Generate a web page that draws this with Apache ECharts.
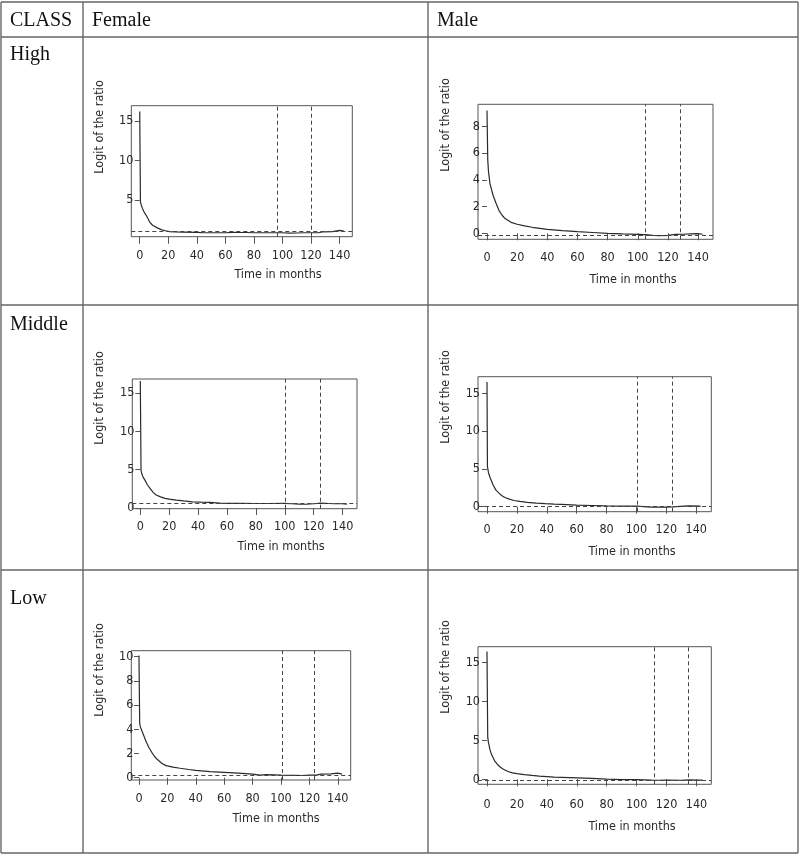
<!DOCTYPE html>
<html>
<head>
<meta charset="utf-8">
<title>Logit of the ratio by class and sex</title>
<script src="https://cdn.jsdelivr.net/npm/echarts@6.0.0/dist/echarts.min.js"></script>
<style>
  html, body { margin: 0; padding: 0; background: #fff; }
  #chart { width: 800px; height: 855px; }
</style>
</head>
<body>
<div id="chart"></div>
<script>
// months on the x axis, logit values
const xTicks = [0, 20, 40, 60, 80, 100, 120, 140];

const femaleHighTime  = [0, 0.5, 1, 2, 3, 5, 7, 9, 12, 15, 18, 21, 25, 30, 40, 45, 50, 60, 65, 70, 75, 80, 90, 100, 105, 110, 115, 120, 125, 128, 135, 140, 143];
const femaleHighLogit = [16.2, 4.8, 4.4, 3.9, 3.5, 2.9, 2.2, 1.8, 1.5, 1.25, 1.1, 1.0, 0.95, 0.93, 0.9, 0.85, 0.85, 0.85, 0.9, 0.88, 0.88, 0.85, 0.85, 0.85, 0.8, 0.82, 0.85, 0.85, 0.85, 0.95, 1.0, 1.15, 1.05];

const maleHighTime  = [0, 0.5, 1, 2, 4, 6, 8, 10, 12, 16, 20, 25, 30, 40, 50, 60, 70, 80, 90, 100, 105, 110, 115, 120, 125, 130, 135, 140, 143];
const maleHighLogit = [9.2, 5.5, 4.6, 3.7, 2.85, 2.25, 1.7, 1.35, 1.1, 0.82, 0.68, 0.55, 0.45, 0.3, 0.2, 0.12, 0.06, 0.0, -0.05, -0.08, -0.1, -0.15, -0.17, -0.15, -0.08, -0.07, -0.05, -0.03, -0.07];

const femaleMiddleTime  = [0, 0.5, 1, 2, 3, 5, 7, 9, 11, 14, 17, 20, 25, 30, 36, 42, 48, 55, 60, 70, 80, 90, 100, 105, 110, 115, 120, 125, 130, 135, 140, 143];
const femaleMiddleLogit = [16.6, 4.9, 4.5, 4.0, 3.7, 3.0, 2.5, 2.0, 1.7, 1.45, 1.25, 1.15, 1.03, 0.92, 0.8, 0.75, 0.72, 0.62, 0.6, 0.6, 0.58, 0.58, 0.6, 0.55, 0.5, 0.48, 0.55, 0.62, 0.58, 0.55, 0.55, 0.5];

const maleMiddleTime  = [0, 0.3, 1, 2, 4, 6, 8, 10, 12, 15, 18, 22, 27, 33, 39, 45, 50, 60, 70, 80, 90, 100, 101, 110, 120, 124, 125, 135, 143];
const maleMiddleLogit = [16.5, 5.3, 4.5, 3.9, 2.9, 2.2, 1.8, 1.45, 1.22, 1.0, 0.82, 0.7, 0.58, 0.48, 0.4, 0.34, 0.3, 0.22, 0.16, 0.1, 0.08, 0.08, -0.05, -0.05, -0.05, -0.03, 0.1, 0.1, 0.08];

const femaleLowTime  = [0, 0.5, 1, 3, 5, 7, 9, 11, 13, 16, 19, 24, 29, 35, 40, 50, 60, 70, 80, 85, 90, 100, 110, 115, 120, 125, 128, 135, 140, 143];
const femaleLowLogit = [10.1, 4.5, 4.2, 3.6, 3.0, 2.5, 2.1, 1.75, 1.5, 1.2, 1.0, 0.88, 0.78, 0.68, 0.6, 0.5, 0.44, 0.38, 0.3, 0.22, 0.25, 0.22, 0.2, 0.18, 0.22, 0.22, 0.3, 0.32, 0.38, 0.3];

const maleLowTime  = [0, 0.5, 1, 2, 3, 5, 7, 9, 11, 14, 17, 20, 25, 30, 35, 40, 45, 50, 60, 70, 80, 90, 100, 110, 115, 120, 130, 135, 140, 144];
const maleLowLogit = [16.4, 5.4, 4.7, 3.8, 3.2, 2.4, 1.9, 1.55, 1.3, 1.0, 0.82, 0.72, 0.6, 0.5, 0.41, 0.35, 0.29, 0.25, 0.18, 0.11, 0.03, -0.03, -0.05, -0.1, -0.12, -0.1, -0.12, -0.08, -0.1, -0.1];

// dashed verticals (months) and dashed horizontal reference level per panel
const cutMonths = [[96.5, 120], [105, 128.2], [100, 124.5], [100.8, 124.2], [100.6, 123.6], [111.9, 134.8]];
const refLevels = [1.08, -0.13, 0.55, 0.03, 0.2, -0.18];
const yTicks = [[5, 10, 15], [0, 2, 4, 6, 8], [0, 5, 10, 15], [0, 5, 10, 15], [0, 2, 4, 6, 8, 10], [0, 5, 10, 15]];

const rowNames = ['High', 'Middle', 'Low'];
const colNames = ['CLASS', 'Female', 'Male'];

window.addEventListener("load", function () {
    let chart = echarts.init(document.getElementById("chart"));

    const sans = "'Liberation Sans Narrow', 'DejaVu Sans Condensed', 'Liberation Sans', sans-serif";
    const serif = "'Liberation Serif', 'DejaVu Serif', serif";

    const times = [femaleHighTime, maleHighTime, femaleMiddleTime, maleMiddleTime, femaleLowTime, maleLowTime];
    const logits = [femaleHighLogit, maleHighLogit, femaleMiddleLogit, maleMiddleLogit, femaleLowLogit, maleLowLogit];

    // plot box + axis ranges + label spots for each panel
    const layout = [
        {left: 131.3, top: 105.7, w: 221.0, h: 131.0, xr: [-5.9, 148.9], yr: [0.35, 16.94], gap: 13, yl: [100, 127], xl: [278, 275]},
        {left: 478.0, top: 104.3, w: 235.0, h: 135.0, xr: [-5.97, 149.9], yr: [-0.45, 9.66], gap: 12, yl: [446, 125], xl: [633, 280]},
        {left: 132.3, top: 379.0, w: 224.7, h: 129.7, xr: [-5.54, 150.0], yr: [-0.1, 16.86], gap: 12, yl: [100, 398], xl: [281, 547]},
        {left: 478.0, top: 376.7, w: 233.3, h: 135.0, xr: [-6.02, 150.1], yr: [-0.66, 17.2], gap: 12, yl: [446, 397], xl: [632, 552]},
        {left: 131.3, top: 650.7, w: 219.4, h: 129.3, xr: [-5.4, 149.1], yr: [-0.19, 10.5], gap: 12, yl: [100, 670], xl: [276, 819]},
        {left: 478.0, top: 646.7, w: 233.3, h: 137.6, xr: [-6.0, 149.9], yr: [-0.64, 17.0], gap: 14, yl: [446, 667], xl: [632, 827]}
    ];

    let grids = [], xAxes = [], yAxes = [], series = [], graphics = [];

    layout.forEach(function (p, i) {
        grids.push({
            left: p.left, top: p.top, width: p.w, height: p.h,
            show: true, borderColor: '#555', borderWidth: 1, backgroundColor: 'transparent'
        });
        xAxes.push({
            type: 'value', gridIndex: i, min: p.xr[0], max: p.xr[1],
            axisLine: {show: false},
            axisTick: {show: true, length: 7, customValues: xTicks, lineStyle: {color: '#555'}},
            axisLabel: {customValues: xTicks, margin: p.gap, fontSize: 12.5, fontFamily: sans, color: '#2a2a2a'},
            splitLine: {show: false}
        });
        yAxes.push({
            type: 'value', gridIndex: i, min: p.yr[0], max: p.yr[1],
            axisLine: {show: false},
            axisTick: {show: true, length: 5, customValues: yTicks[i], lineStyle: {color: '#555'}},
            axisLabel: {customValues: yTicks[i], margin: -2, fontSize: 12.5, fontFamily: sans, color: '#2a2a2a'},
            splitLine: {show: false}
        });
        series.push({
            type: 'line', xAxisIndex: i, yAxisIndex: i,
            data: times[i].map((t, k) => [t, logits[i][k]]),
            showSymbol: false, animation: false,
            lineStyle: {color: '#2a2a2a', width: 1.2},
            markLine: {
                silent: true, symbol: ['none', 'none'], animation: false,
                label: {show: false},
                lineStyle: {type: [4, 3], color: '#444', width: 1},
                data: [{xAxis: cutMonths[i][0]}, {xAxis: cutMonths[i][1]}, {yAxis: refLevels[i]}]
            }
        });
        graphics.push({
            type: 'text', x: p.yl[0], y: p.yl[1], rotation: Math.PI / 2,
            style: {text: 'Logit of the ratio', align: 'center', verticalAlign: 'middle', fontSize: 12.5, fontFamily: sans, fill: '#2a2a2a'}
        });
        graphics.push({
            type: 'text', x: p.xl[0], y: p.xl[1],
            style: {text: 'Time in months', align: 'center', verticalAlign: 'middle', fontSize: 12.5, fontFamily: sans, fill: '#2a2a2a'}
        });
    });

    // table rules
    const rows = [2, 37, 305, 570, 853];
    const cols = [1, 83, 428, 798];
    rows.forEach(y => graphics.push({type: 'line', shape: {x1: 1, y1: y, x2: 798, y2: y}, style: {stroke: '#666', lineWidth: 1.4}}));
    cols.forEach(x => graphics.push({type: 'line', shape: {x1: x, y1: 2, x2: x, y2: 853}, style: {stroke: '#666', lineWidth: 1.4}}));

    // header and row captions
    const colX = [10, 92, 437];
    colNames.forEach((n, k) => graphics.push({
        type: 'text', x: colX[k], y: 31,
        style: {text: n, align: 'left', verticalAlign: 'bottom', fontSize: 20, fontFamily: serif, fill: '#111'}
    }));
    const rowY = [65, 335, 609];
    rowNames.forEach((n, k) => graphics.push({
        type: 'text', x: 10, y: rowY[k],
        style: {text: n, align: 'left', verticalAlign: 'bottom', fontSize: 20, fontFamily: serif, fill: '#111'}
    }));

    let option = {
        backgroundColor: '#fff',
        animation: false,
        grid: grids,
        xAxis: xAxes,
        yAxis: yAxes,
        series: series,
        graphic: graphics
    };

    chart.setOption(option);
});
</script>
</body>
</html>
